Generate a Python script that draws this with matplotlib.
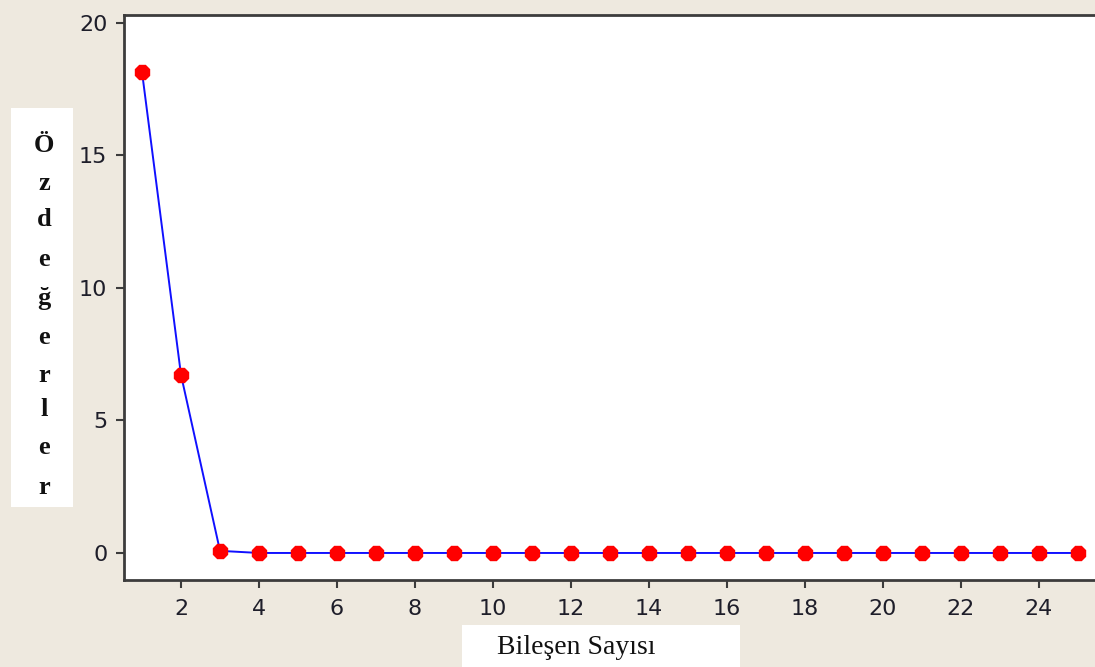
import matplotlib
matplotlib.use("Agg")
import matplotlib.pyplot as plt
from matplotlib.patches import Rectangle

# Scree plot data: component number vs eigenvalue
components = list(range(1, 26))
eigenvalues = [18.15, 6.72, 0.08] + [0.0] * 22
x_ticks = list(range(2, 25, 2))
y_ticks = [0, 5, 10, 15, 20]
y_label = "Özdeğerler"
x_label = "Bileşen Sayısı"

W, H = 1095, 667
bg = "#EEE9DF"
spine_col = "#3C3C3C"

fig = plt.figure(figsize=(W / 100, H / 100), dpi=100, facecolor=bg)
ax = fig.add_axes([124 / W, 1 - 580 / H, 1 - 124 / W, (580 - 15) / H])
ax.set_facecolor("white")

ax.plot(components, eigenvalues, color="#1010FF", lw=1.4, zorder=2)
ax.plot(components, eigenvalues, ls="none", marker="8", ms=11,
        mfc="#FF0000", mec="#FF0000", zorder=3)

ax.set_xlim(0.538, 25.44)
ax.set_ylim(-1.02, 20.30)
ax.set_xticks(x_ticks)
ax.set_yticks(y_ticks)

for side in ("left", "top", "bottom"):
    ax.spines[side].set_color(spine_col)
    ax.spines[side].set_linewidth(2)
ax.spines["right"].set_visible(False)

ax.tick_params(axis="both", direction="out", length=6, width=1.5,
               colors=spine_col, labelcolor="#1E1E2A", labelsize=16, pad=6)
ax.tick_params(axis="x", pad=8)
for lab in ax.get_xticklabels() + ax.get_yticklabels():
    lab.set_fontfamily("DejaVu Sans")

# Vertical axis title: white box with stacked letters
fig.patches.append(Rectangle((11 / W, 1 - 507 / H), 62 / W, 399 / H,
                             transform=fig.transFigure, facecolor="white",
                             edgecolor="none", zorder=0))
letter_y = [145, 183, 220, 259, 298, 337, 376, 410, 448, 487]
for ch, yy in zip(y_label, letter_y):
    fig.text(44 / W, 1 - yy / H, ch, ha="center", va="center",
             fontsize=19, fontweight="bold", family="Liberation Serif",
             color="#111111")

# Horizontal axis title: white box
fig.patches.append(Rectangle((462 / W, 0), 278 / W, 42 / H,
                             transform=fig.transFigure, facecolor="white",
                             edgecolor="none", zorder=0))
fig.text(576 / W, 1 - 647 / H, x_label, ha="center", va="center",
         fontsize=20, family="Liberation Serif", color="#111111")

fig.savefig("out.png", dpi=100, facecolor=bg)
